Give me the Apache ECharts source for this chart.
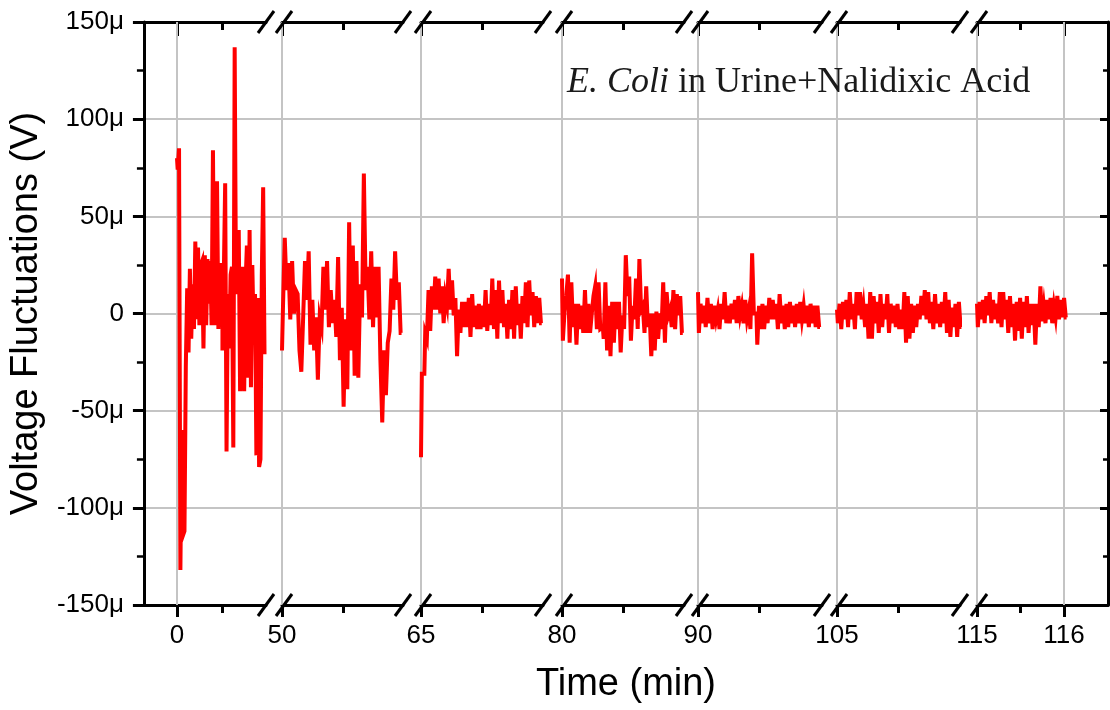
<!DOCTYPE html>
<html><head><meta charset="utf-8">
<script src="https://cdn.jsdelivr.net/npm/echarts@6/dist/echarts.min.js"></script>
<style>html,body{margin:0;padding:0;background:#fff}#c{width:1110px;height:710px}</style>
</head><body><div id="c"></div>
<script>
// ---------- DATA ----------
const segStarts = [0, 50, 65, 80, 90, 105, 115];          // minutes, start of each recording
const segDurations = [0.98, 0.98, 0.99, 0.99, 1.0, 1.02, 1.03]; // minutes covered by each recording
const majorTicks = [[0], [50], [65], [80], [90], [105], [115, 116]];
const minorTicks = [[0.5], [50.5], [65.5], [80.5], [90.5], [105.5], [115.5]];
const yTicks = [-150, -100, -50, 0, 50, 100, 150];   // µV

// voltage fluctuations (µV)
const seg0 = [80, 74, 85, -132, -60, -114, -112, -27, 13, -20, 23, -13, 15, -8, 37, -3, 34, -6, 25, 27, -18, 30, -6, 28, 5, 27, -6, 84, -6, 20, 68, -8, 25, 25, -19, 20, 67, -71, 10, -18, 20, 24, -69, 137, 10, 30, 43, -40, 20, 24, -40, 15, 35, -33, 43, -38, 25, -10, 10, -73, 8, -79, -75, 20, 65, -21];
const seg50 = [-19, 2, 39, 12, 26, -3, 27, 0, 12, 10, -19, -30, -2, 27, 7, 32, -16, 7, -19, -2, -34, -2, -7, 24, 2, 27, -7, 12, -5, 7, -12, 29, -24, 3, -48, -3, -39, 47, -19, 35, -32, 27, -33, 15, -2, 72, 12, 24, -3, 32, -7, 24, -2, 24, -24, -56, -19, -42, -15, -9, 18, 2, 32, 7, 16, -10];
const seg65 = [-74, -31, -31, -10, -13, 12, -9, 14, 2, 19, 2, 18, 0, 14, -5, 9, 4, 23, 2, 17, -1, 8, -22, 2, -10, 6, -7, 6, -7, 8, -12, 10, -7, 4, -8, 5, -8, 4, -7, 12, -9, 5, -6, 18, -8, 12, -13, 17, -5, 12, -7, 5, -13, 7, -8, 12, -13, 14, -6, 5, -13, 9, -5, 16, -7, 17, -1, 11, -7, 9, -5, 8, -5];
const seg80 = [18, -14, 1, 9, 20, -15, 16, -7, 5, -16, 5, -8, 4, -10, 12, -10, 5, -10, 0, 9, 14, -8, 16, -8, -7, -13, 16, -19, 4, -22, 6, -15, 6, -8, 6, -20, -1, -8, 30, 9, 19, -14, 4, -3, 18, -8, 28, 2, 4, -10, 14, -7, 0, -22, 0, -19, 1, -13, 0, -8, 16, -15, 11, -1, 2, -7, 12, -8, 10, -1, 9, -10];
const seg90 = [11, -10, 5, -5, 4, -7, 8, -5, 5, -8, 4, -3, 2, -8, 5, -3, 11, -5, 4, -5, 5, -3, 7, -5, 9, -1, 4, -5, 7, -3, 2, -8, 31, 0, 0, -16, 4, -8, 5, -8, 4, -5, 8, -3, 7, -3, 5, -8, 10, -5, 4, -8, 5, -7, 6, -5, 4, -7, 5, -5, 6, -3, 4, -5, 4, -7, 5, -5, 4, -7, 4, -7];
const seg105 = [2, -5, 5, -8, 6, -3, 7, -7, 11, -3, 5, -8, 11, -1, 11, -3, 4, -7, 5, -13, 11, -13, 9, -5, 6, -10, 10, -7, 5, -3, 10, -10, 5, -5, 4, -7, 5, -8, 2, -8, 11, -15, 9, -13, 5, -10, 4, -7, 5, -3, 9, -1, 12, -3, 11, -5, 6, -8, 10, -5, 5, -7, 6, -5, 11, -10, 7, -12, 3, -7, 5, -12, 6, -7];
const seg115 = [5, -7, 6, -3, 7, -5, 9, -1, 11, -5, 7, -3, 5, -5, 11, -7, 11, -3, 7, -10, 9, -7, 5, -14, 6, -9, 8, -13, 6, -7, 9, -10, 5, -6, 5, -16, 5, -7, 14, -4, 4, -5, 7, -3, 8, -5, 4, -2, 9, -3, 7, -2, 8, -2];
const segValues = [seg0, seg50, seg65, seg80, seg90, seg105, seg115];

// ---------- LAYOUT (pixels) ----------
const W = 1110, H = 710;
const plotTop = 22, plotBottom = 605, plotLeft = 135, plotRight = 1108;
const segLayout = [
  {tick: 177, left: 135, right: 266, ppm: 90},
  {tick: 282, left: 282, right: 403, ppm: 122},
  {tick: 421, left: 421, right: 543, ppm: 122},
  {tick: 562, left: 562, right: 684, ppm: 122},
  {tick: 698, left: 698, right: 822, ppm: 122},
  {tick: 837, left: 837, right: 960, ppm: 122},
  {tick: 977, left: 977, right: 1108, ppm: 87}
];
const FONT = 'Liberation Sans';
const AXW = 3;

const grids = [{left: plotLeft, right: W - plotRight, top: plotTop, bottom: H - plotBottom}];
const xAxes = [{
  gridIndex: 0, type: 'value', min: 0, max: 1, show: true,
  axisLine: {show: false}, axisTick: {show: false}, axisLabel: {show: false}, splitLine: {show: false},
  name: 'Time (min)', nameLocation: 'middle', nameGap: 61,
  nameTextStyle: {fontFamily: FONT, fontSize: 38, color: '#000'}
}];
const yAxes = [
  {gridIndex: 0, type: 'value', min: -150, max: 150, interval: 50, position: 'left',
   axisLine: {show: true, lineStyle: {color: '#000', width: AXW}},
   axisTick: {show: true, inside: false, length: 11, lineStyle: {color: '#000', width: AXW}},
   minorTick: {show: true, splitNumber: 2, length: 7, lineStyle: {color: '#000', width: 2.5}},
   axisLabel: {fontFamily: FONT, fontSize: 26, color: '#000', margin: 20,
     formatter: v => v === 0 ? '0' : v + 'μ'},
   splitLine: {show: true, showMinLine: false, showMaxLine: false, lineStyle: {color: '#c4c4c4', width: 2}},
   name: 'Voltage Fluctuations (V)', nameLocation: 'middle', nameGap: 72,
   nameTextStyle: {fontFamily: FONT, fontSize: 38, color: '#000'}},
  {gridIndex: 0, type: 'value', min: -150, max: 150, interval: 50, position: 'right',
   axisLine: {show: true, lineStyle: {color: '#000', width: AXW}},
   axisTick: {show: true, inside: true, length: 8, lineStyle: {color: '#000', width: AXW}},
   minorTick: {show: true, splitNumber: 2, length: 5, lineStyle: {color: '#000', width: 2.5}},
   axisLabel: {show: false}, splitLine: {show: false}}
];
const series = [];
const nSeg = segStarts.length;

segLayout.forEach((L) => {
  const g = {left: L.left, width: L.right - L.left, top: plotTop, bottom: H - plotBottom};
  grids.push(Object.assign({}, g));   // data grid  (1 + 2k)
  grids.push(Object.assign({}, g));   // minor-tick grid (2 + 2k)
});
segLayout.forEach((L, k) => {
  const s = segStarts[k];
  const min = s + (L.left - L.tick) / L.ppm;
  const max = s + (L.right - L.tick) / L.ppm;
  const gData = 1 + 2 * k, gMinor = 2 + 2 * k;
  const base = {type: 'value', min: min, max: max, splitLine: {show: false}};
  const xBottomIdx = xAxes.length;
  xAxes.push(Object.assign({}, base, {gridIndex: gData, position: 'bottom',
    axisLine: {show: true, onZero: false, lineStyle: {color: '#000', width: AXW}},
    axisTick: {show: true, inside: false, length: 12, customValues: majorTicks[k], lineStyle: {color: '#000', width: AXW}},
    axisLabel: {show: true, customValues: majorTicks[k], fontFamily: FONT, fontSize: 26, color: '#000', margin: 18,
      formatter: v => String(Math.round(v))}}));
  xAxes.push(Object.assign({}, base, {gridIndex: gData, position: 'top',
    axisLine: {show: true, onZero: false, lineStyle: {color: '#000', width: AXW}},
    axisTick: {show: true, inside: true, length: 14, customValues: majorTicks[k], lineStyle: {color: '#000', width: AXW}},
    axisLabel: {show: false}}));
  xAxes.push(Object.assign({}, base, {gridIndex: gMinor, position: 'bottom',
    axisLine: {show: false, onZero: false},
    axisTick: {show: true, inside: false, length: 8, customValues: minorTicks[k], lineStyle: {color: '#000', width: AXW}},
    axisLabel: {show: false}}));
  xAxes.push(Object.assign({}, base, {gridIndex: gMinor, position: 'top',
    axisLine: {show: false, onZero: false},
    axisTick: {show: true, inside: true, length: 8, customValues: minorTicks[k], lineStyle: {color: '#000', width: AXW}},
    axisLabel: {show: false}}));
  const yIdx = yAxes.length;
  yAxes.push({gridIndex: gData, type: 'value', min: -150, max: 150, show: false});
  yAxes.push({gridIndex: gMinor, type: 'value', min: -150, max: 150, show: false});
  const vals = segValues[k];
  const n = vals.length;
  series.push({
    type: 'line', xAxisIndex: xBottomIdx, yAxisIndex: yIdx, z: 3,
    data: vals.map((v, i) => [s + segDurations[k] * i / (n - 1), v]),
    step: 'middle',
    showSymbol: false, symbol: 'none', sampling: false, animation: false,
    lineStyle: {color: '#ff0000', width: 4, join: 'miter', cap: 'butt'},
    markLine: {silent: true, symbol: 'none', z: 1, animation: false,
      label: {show: false},
      lineStyle: {color: '#c4c4c4', width: 2, type: 'solid'},
      data: majorTicks[k].map(t => ({xAxis: t}))}
  });
});

// break marks
const graphics = [];
function slash(cx, cy) {
  graphics.push({type: 'line', shape: {x1: cx - 8, y1: cy + 11, x2: cx + 8, y2: cy - 11},
    style: {stroke: '#000', lineWidth: 3}, z: 10});
}
for (let k = 0; k < nSeg - 1; k++) {
  const a = segLayout[k].right, b = segLayout[k + 1].left + 2;
  [plotTop, plotBottom].forEach(y => { slash(a, y); slash(b, y); });
}

const chart = echarts.init(document.getElementById('c'), null, {renderer: 'canvas', width: W, height: H});
chart.setOption({
  animation: false,
  backgroundColor: '#fff',
  title: {text: '{it|E. Coli} in Urine+Nalidixic Acid', left: 562, top: 60,
    textStyle: {fontFamily: 'Liberation Serif', fontSize: 36, fontWeight: 'normal', color: '#1a1a1a',
      rich: {it: {fontFamily: 'Liberation Serif', fontSize: 36, fontStyle: 'italic', color: '#1a1a1a'}}}},
  grid: grids, xAxis: xAxes, yAxis: yAxes, series: series, graphic: graphics
});
</script></body></html>
